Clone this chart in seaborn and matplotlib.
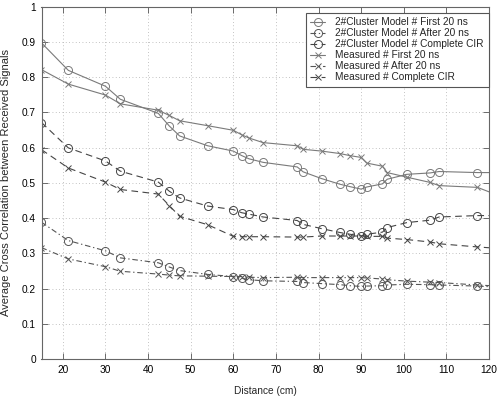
import matplotlib
matplotlib.use("Agg")
import matplotlib.pyplot as plt
import seaborn as sns
import pandas as pd

distance = [15, 21.3, 30, 33.5, 42.4, 45, 47.4, 54, 60, 62, 63.7, 67, 75, 76.4,
            80.7, 85, 87.4, 90, 91.3, 95, 96.1, 100.7, 106.2, 108.3, 117.3, 122]

model_first = [0.897, 0.819, 0.774, 0.737, 0.697, 0.661, 0.633, 0.605, 0.590, 0.577,
               0.568, 0.558, 0.545, 0.531, 0.512, 0.496, 0.489, 0.482, 0.488, 0.497,
               0.510, 0.524, 0.528, 0.532, 0.529, 0.529]
model_after = [0.388, 0.336, 0.307, 0.287, 0.273, 0.261, 0.251, 0.240, 0.234, 0.229,
               0.225, 0.222, 0.220, 0.217, 0.214, 0.211, 0.208, 0.206, 0.207, 0.208,
               0.210, 0.212, 0.211, 0.210, 0.207, 0.204]
model_complete = [0.671, 0.599, 0.562, 0.533, 0.502, 0.476, 0.457, 0.434, 0.424, 0.415,
                  0.411, 0.403, 0.393, 0.382, 0.370, 0.359, 0.354, 0.349, 0.354, 0.360,
                  0.373, 0.387, 0.394, 0.403, 0.407, 0.407]
meas_first = [0.821, 0.780, 0.749, 0.724, 0.706, 0.691, 0.676, 0.662, 0.649, 0.636,
              0.627, 0.614, 0.605, 0.595, 0.590, 0.583, 0.577, 0.572, 0.556, 0.547,
              0.529, 0.516, 0.501, 0.492, 0.487, 0.465]
meas_after = [0.316, 0.284, 0.262, 0.249, 0.241, 0.238, 0.236, 0.235, 0.234, 0.234,
              0.232, 0.231, 0.232, 0.231, 0.231, 0.231, 0.231, 0.231, 0.230, 0.227,
              0.225, 0.221, 0.218, 0.217, 0.210, 0.207]
meas_complete = [0.594, 0.542, 0.502, 0.481, 0.468, 0.435, 0.405, 0.381, 0.348, 0.347,
                 0.347, 0.347, 0.346, 0.346, 0.349, 0.349, 0.349, 0.349, 0.348, 0.348,
                 0.343, 0.339, 0.332, 0.327, 0.318, 0.314]

labels = ["2#Cluster Model # First 20 ns", "2#Cluster Model # After 20 ns",
          "2#Cluster Model # Complete CIR", "Measured # First 20 ns",
          "Measured # After 20 ns", "Measured # Complete CIR"]
series = [model_first, model_after, model_complete, meas_first, meas_after, meas_complete]

sns.set_theme(style="white")
plt.rcParams['font.family'] = ['Liberation Sans', 'DejaVu Sans']

fig = plt.figure(figsize=(5.0, 3.96), dpi=100)
ax = fig.add_axes([0.083, 0.0934, 0.895, 0.890])

dashdot = (0, (5, 2.5, 1.2, 2.5))
dashed = (0, (6, 4))
styles = [
    dict(marker='o', linestyle='-', color='#7a7a7a'),
    dict(marker='o', linestyle=dashdot, color='#555555'),
    dict(marker='o', linestyle=dashed, color='#454545'),
    dict(marker='x', linestyle='-', color='#7a7a7a'),
    dict(marker='x', linestyle=dashdot, color='#555555'),
    dict(marker='x', linestyle=dashed, color='#454545'),
]

for lab, vals, st in zip(labels, series, styles):
    df = pd.DataFrame({"Distance": distance, "Corr": vals})
    sns.lineplot(data=df, x="Distance", y="Corr", ax=ax, label=lab,
                 marker=st['marker'], linestyle=st['linestyle'], color=st['color'],
                 markerfacecolor='none', markeredgecolor=st['color'],
                 markersize=5.8 if st['marker'] == 'o' else 4.2,
                 markeredgewidth=0.7, linewidth=0.8, estimator=None, sort=False)

ax.set_xlim(15, 120)
ax.set_ylim(0, 1)
ax.set_xticks(range(20, 121, 10))
ax.set_yticks([i / 10 for i in range(0, 11)])
ax.set_yticklabels(["0", "0.1", "0.2", "0.3", "0.4", "0.5", "0.6", "0.7", "0.8", "0.9", "1"])
ax.grid(True, linestyle=(0, (1, 3)), color='#b0b0b0', linewidth=0.6)
ax.tick_params(direction='in', length=4, width=0.6, colors='#555555',
               labelcolor='black', labelsize=7.3, top=True, right=True,
               bottom=True, left=True, pad=4)
for sp in ax.spines.values():
    sp.set_color('#666666')
    sp.set_linewidth(0.8)

ax.set_xlabel("Distance (cm)", fontsize=7.3, labelpad=8)
ax.set_ylabel("Average Cross Correlation between Received Signals", fontsize=8.0, labelpad=8)

leg = ax.legend(loc='upper right', fontsize=7.3, handlelength=1.5, handletextpad=1.0,
                borderpad=0.45, borderaxespad=0.0, labelspacing=0.1, frameon=True,
                fancybox=False, framealpha=1, edgecolor='#555555',
                bbox_to_anchor=(0.999, 0.983))
leg.get_frame().set_linewidth(0.8)

fig.savefig("out.png", dpi=100)
